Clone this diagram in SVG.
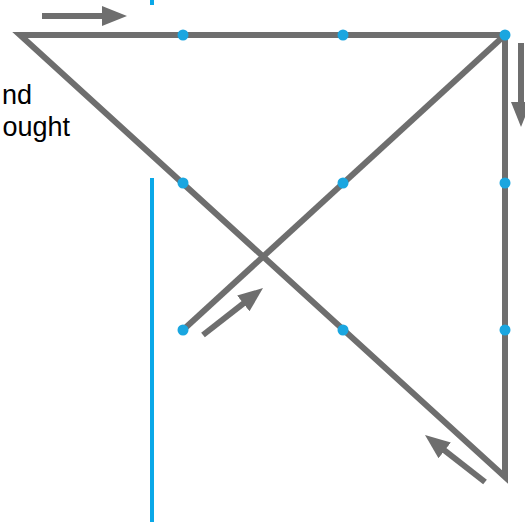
<svg xmlns="http://www.w3.org/2000/svg" width="525" height="522" viewBox="0 0 525 522">
<style>
.edge{fill:none;stroke:#6e6e6e;stroke-width:6;stroke-linejoin:miter}
.arr{fill:none;stroke:#6e6e6e;stroke-width:6;stroke-linecap:butt}
.dot{fill:#1aa6e0}
.lbl{font-family:"Liberation Sans",Arial,sans-serif;font-size:27px;fill:#000}
.blue{stroke:#0aa8e8;stroke-width:4}
</style>
<defs>
<marker id="ah" markerUnits="userSpaceOnUse" markerWidth="26" markerHeight="22" refX="10" refY="11" orient="auto">
<path d="M0,1 L25,11 L0,21 Z" fill="#6e6e6e"/>
</marker>
</defs>
<rect width="525" height="522" fill="#fff"/>
<g id="divider">
<line class="blue" x1="152" y1="0" x2="152" y2="5"/>
<line class="blue" x1="152" y1="178" x2="152" y2="522"/>
</g>
<g id="label">
<text class="lbl" x="32" y="104" text-anchor="end">nd</text>
<text class="lbl" x="70" y="136" text-anchor="end">ought</text>
</g>
<g id="connectors">
<path class="edge" d="M20,35 H505 V477 Z"/>
<line class="edge" x1="505" y1="35" x2="183" y2="330"/>
<line class="arr" x1="42" y1="16" x2="112" y2="16" marker-end="url(#ah)"/>
<line class="arr" x1="521" y1="43" x2="521" y2="112" marker-end="url(#ah)"/>
<line class="arr" x1="203" y1="335" x2="251.2" y2="297.3" marker-end="url(#ah)"/>
<line class="arr" x1="485" y1="482" x2="436.8" y2="444.3" marker-end="url(#ah)"/>
</g>
<g id="dots">
<circle class="dot" cx="183" cy="35" r="5.5"/>
<circle class="dot" cx="343" cy="35" r="5.5"/>
<circle class="dot" cx="505" cy="35" r="5.5"/>
<circle class="dot" cx="183" cy="183" r="5.5"/>
<circle class="dot" cx="343" cy="183" r="5.5"/>
<circle class="dot" cx="505" cy="183" r="5.5"/>
<circle class="dot" cx="183" cy="330" r="5.5"/>
<circle class="dot" cx="343" cy="330" r="5.5"/>
<circle class="dot" cx="505" cy="330" r="5.5"/>
</g>
</svg>
